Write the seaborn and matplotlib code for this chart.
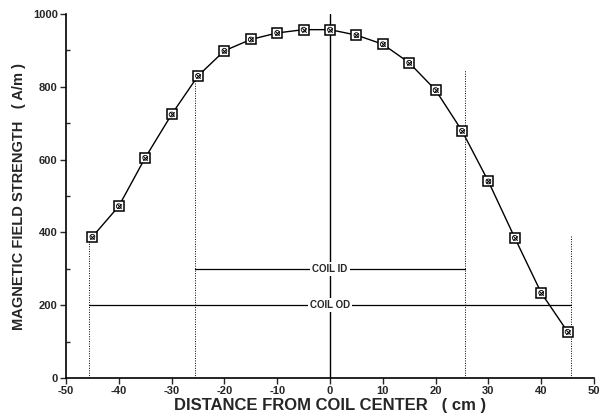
import matplotlib
matplotlib.use("Agg")
import matplotlib.pyplot as plt
import seaborn as sns
import pandas as pd
from matplotlib.ticker import MultipleLocator

sns.set_theme(style="ticks")
plt.rcParams['font.family'] = ['Liberation Sans', 'DejaVu Sans']
plt.rcParams['axes.unicode_minus'] = False

distance = [-45, -40, -35, -30, -25, -20, -15, -10, -5, 0, 5, 10, 15, 20, 25, 30, 35, 40, 45]
field = [388, 472, 605, 724, 830, 899, 930, 948, 957, 957, 942, 917, 866, 791, 679, 540, 385, 234, 127]

coil_id_half = 25.6
coil_od_half = 45.6
coil_id_level = 300
coil_od_level = 200
xticks = [-50, -40, -30, -20, -10, 0, 10, 20, 30, 40, 50]
yticks = [0, 200, 400, 600, 800, 1000]

df = pd.DataFrame({"distance": distance, "field": field})

fig = plt.figure(figsize=(6.05, 4.19), dpi=100)
ax = fig.add_axes([66/605, 1 - 378/419, (594-66)/605, (378-14)/419])

# reference lines
lw_ref = 0.9
ax.plot([0, 0], [0, 1000], color="black", lw=1.0, zorder=1)
ax.plot([-coil_id_half, coil_id_half], [coil_id_level]*2, color="black", lw=lw_ref, zorder=1)
ax.plot([-coil_od_half, coil_od_half], [coil_od_level]*2, color="black", lw=lw_ref, zorder=1)
for xv, top in [(-coil_od_half, 388), (-coil_id_half, 830), (coil_id_half, 846), (coil_od_half, 393)]:
    ax.plot([xv, xv], [0, top], color="black", lw=0.7, ls=(0, (1, 1.5)), zorder=1)

bbox = dict(facecolor="white", edgecolor="none", pad=1.5)
ax.text(0, coil_id_level, "COIL ID", ha="center", va="center", fontsize=7,
        fontweight="bold", bbox=bbox, zorder=2)
ax.text(0, coil_od_level, "COIL OD", ha="center", va="center", fontsize=7,
        fontweight="bold", bbox=bbox, zorder=2)

sns.lineplot(data=df, x="distance", y="field", ax=ax, color="black", lw=1.0,
             marker="s", markersize=6.5, markerfacecolor="white",
             markeredgecolor="black", markeredgewidth=1.1, zorder=3)
ax.scatter(df["distance"], df["field"], marker="o", s=12, facecolor="none",
           edgecolor="black", linewidths=0.6, zorder=4)
ax.scatter(df["distance"], df["field"], marker="x", s=10, color="black",
           linewidths=0.7, zorder=4)

ax.set_xlim(-50, 50)
ax.set_ylim(0, 1000)
ax.set_xticks(xticks)
ax.set_yticks(yticks)
ax.yaxis.set_minor_locator(MultipleLocator(100))
ax.tick_params(axis="both", which="major", direction="out", length=4, width=1,
               labelsize=8, pad=2)
ax.tick_params(axis="y", which="minor", direction="in", length=3, width=1)
for lab in ax.get_xticklabels() + ax.get_yticklabels():
    lab.set_fontweight("bold")

for s in ["top", "right"]:
    ax.spines[s].set_visible(False)
for s in ["left", "bottom"]:
    ax.spines[s].set_linewidth(1.2)
    ax.spines[s].set_color("black")

ax.set_xlabel("DISTANCE FROM COIL CENTER   ( cm )", fontsize=12, fontweight="bold", labelpad=1)
ax.set_ylabel("MAGNETIC FIELD STRENGTH   ( A/m )", fontsize=10.5, fontweight="bold", labelpad=5)
ax.set_facecolor("white")
fig.patch.set_facecolor("white")

fig.savefig("out.png", dpi=100)
